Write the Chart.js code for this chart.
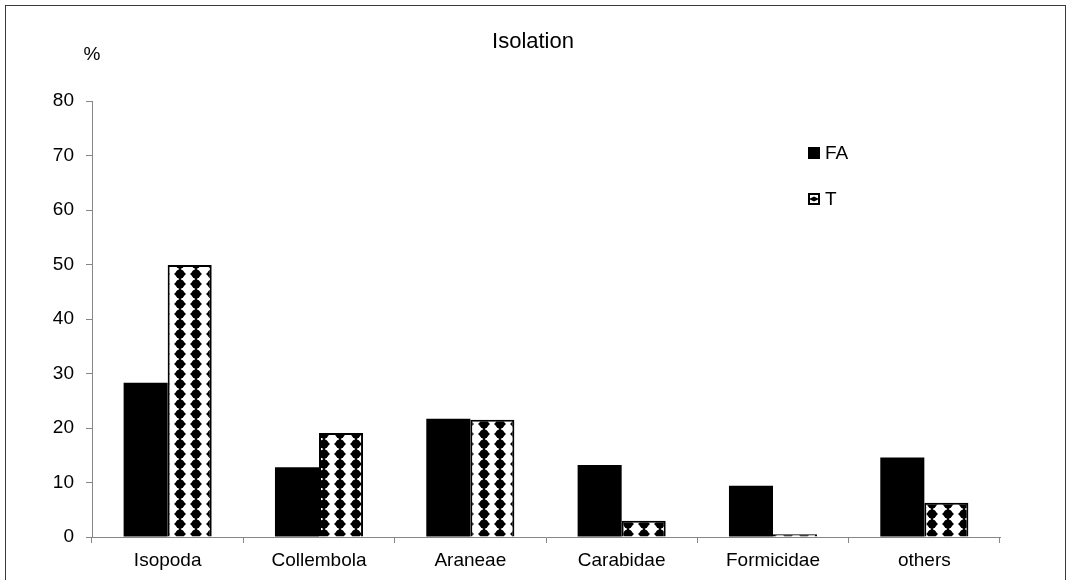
<!DOCTYPE html>
<html>
<head>
<meta charset="utf-8">
<script src="https://cdn.jsdelivr.net/npm/chart.js@4.4.1/dist/chart.umd.min.js"></script>
<style>
  html, body { margin: 0; padding: 0; background: #fff; }
  #wrap { position: relative; width: 1068px; height: 580px; }
</style>
</head>
<body>
<div id="wrap"><canvas id="c"></canvas></div>
<script>
// Share of captured individuals per taxon (%), isolation site
const categories = ['Isopoda', 'Collembola', 'Araneae', 'Carabidae', 'Formicidae', 'others'];
const seriesFA = [28.3, 12.8, 21.7, 13.2, 9.4, 14.6];
const seriesT = [49.9, 19.1, 21.5, 3.0, 0.5, 6.3];
const seriesNames = ['FA', 'T'];
const yTicks = [0, 10, 20, 30, 40, 50, 60, 70, 80];
const titleText = 'Isolation';
const unitText = '%';

const FONT = '"Liberation Sans", Arial, Helvetica, sans-serif';

// Checkered diamond fill for the T series
function makePattern() {
  const t = document.createElement('canvas');
  t.width = 16; t.height = 10;
  const g = t.getContext('2d');
  g.fillStyle = '#fff';
  g.fillRect(0, 0, 16, 10);
  g.fillStyle = '#000';
  const cx = 4, cy = 4;
  const drawBlob = (x, y) => {
    g.beginPath();
    g.moveTo(x, y - 5.6);
    g.lineTo(x + 6, y);
    g.lineTo(x, y + 5.6);
    g.lineTo(x - 6, y);
    g.closePath();
    g.fill();
    g.beginPath();
    g.arc(x, y, 4.5, 0, Math.PI * 2);
    g.fill();
  };
  // draw with wrap-around copies so the tile repeats seamlessly
  for (const dx of [-16, 0, 16]) for (const dy of [-10, 0, 10]) drawBlob(cx + dx, cy + dy);
  return g.createPattern(t, 'repeat');
}
const pattern = makePattern();

const framePlugin = {
  id: 'frame',
  beforeDraw(chart) {
    const ctx = chart.ctx;
    ctx.save();
    ctx.fillStyle = '#fff';
    ctx.fillRect(0, 0, chart.width, chart.height);
    ctx.strokeStyle = '#3a3a3a';
    ctx.lineWidth = 1;
    ctx.strokeRect(5.5, 5.5, 1060, 600);
    ctx.restore();
  },
  afterDraw(chart) {
    const ctx = chart.ctx;
    ctx.save();
    ctx.fillStyle = '#000';
    ctx.textBaseline = 'middle';
    ctx.textAlign = 'center';
    ctx.font = '22px ' + FONT;
    ctx.fillText(titleText, 533, 42);
    ctx.font = '19px ' + FONT;
    ctx.fillText(unitText, 92, 55);

    // legend
    ctx.textAlign = 'left';
    const lx = 808, rows = [153, 199];
    // FA marker
    ctx.fillStyle = '#000';
    ctx.fillRect(lx, rows[0] - 6, 12, 12);
    // T marker: framed square with a small diamond motif
    const ty = rows[1] - 6;
    ctx.fillStyle = '#000';
    ctx.fillRect(lx, ty, 12, 12);
    ctx.fillStyle = '#fff';
    ctx.fillRect(lx + 2, ty + 2, 8, 8);
    ctx.fillStyle = '#000';
    ctx.beginPath();
    ctx.moveTo(lx + 1, ty + 6);
    ctx.lineTo(lx + 6, ty + 3.5);
    ctx.lineTo(lx + 11, ty + 6);
    ctx.lineTo(lx + 6, ty + 8.5);
    ctx.closePath();
    ctx.fill();
    ctx.fillRect(lx + 3, ty + 5, 6, 2);

    ctx.fillStyle = '#000';
    ctx.font = '19px ' + FONT;
    ctx.fillText(seriesNames[0], lx + 17, rows[0] + 1);
    ctx.fillText(seriesNames[1], lx + 17, rows[1] + 1);
    ctx.restore();
  }
};

new Chart(document.getElementById('c'), {
  type: 'bar',
  data: {
    labels: categories,
    datasets: [
      {
        label: seriesNames[0],
        data: seriesFA,
        backgroundColor: '#000',
        borderWidth: 0,
        categoryPercentage: 0.582,
        barPercentage: 1.0
      },
      {
        label: seriesNames[1],
        data: seriesT,
        backgroundColor: pattern,
        borderColor: '#000',
        borderWidth: 2,
        categoryPercentage: 0.582,
        barPercentage: 1.0
      }
    ]
  },
  options: {
    responsive: true,
    maintainAspectRatio: false,
    animation: false,
    layout: { padding: { top: 101, right: 68, left: 0, bottom: 0 } },
    plugins: {
      legend: { display: false },
      title: { display: false },
      tooltip: { enabled: false }
    },
    scales: {
      x: {
        afterFit(s) { s.height = 43; },
        grid: {
          display: true,
          drawOnChartArea: false,
          drawTicks: true,
          tickLength: 6,
          color: '#868686',
          offset: true
        },
        border: { display: true, color: '#868686', width: 1 },
        ticks: {
          color: '#000',
          font: { family: FONT, size: 19 },
          padding: 6,
          maxRotation: 0
        }
      },
      y: {
        min: 0,
        max: 80,
        afterFit(s) { s.width = 92; },
        afterBuildTicks(s) { s.ticks = yTicks.map(v => ({ value: v })); },
        grid: {
          display: true,
          drawOnChartArea: false,
          drawTicks: true,
          tickLength: 6,
          color: '#868686'
        },
        border: { display: true, color: '#868686', width: 1 },
        ticks: {
          color: '#000',
          font: { family: FONT, size: 19 },
          padding: 12
        }
      }
    }
  },
  plugins: [framePlugin]
});
</script>
</body>
</html>
